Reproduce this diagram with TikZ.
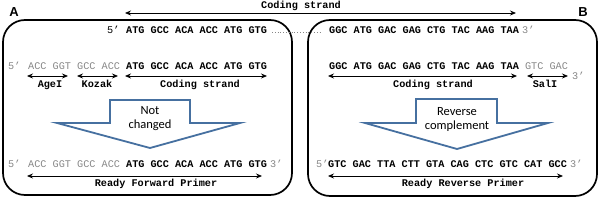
\documentclass[tikz,border=0pt]{standalone}
\usepackage{fontspec}
\setmonofont{Liberation Mono}
\newfontfamily\carlitofont{Carlito}
\newfontfamily\arialf{Liberation Sans}
\usetikzlibrary{arrows.meta}
\definecolor{seq}{RGB}{135,135,135}
\definecolor{bigarrow}{RGB}{70,112,160}
\tikzset{
  txt/.style={inner sep=0pt, anchor=base west, font=\ttfamily\fontsize{10.2}{12}\selectfont},
  lbl/.style={inner sep=0pt, anchor=base, font=\ttfamily\bfseries\fontsize{10.2}{12}\selectfont},
  dim/.style={line width=0.8pt, {Stealth[length=6pt,width=5pt]}-{Stealth[length=6pt,width=5pt]}},
  panel/.style={line width=1.7pt, rounded corners=22pt},
  fat/.style={draw=bigarrow, line width=1.8pt, fill=white, line join=miter},
  fattext/.style={inner sep=0pt, align=center, font=\carlitofont\fontsize{12.5}{14}\selectfont},
  letter/.style={inner sep=0pt, anchor=base, font=\arialf\bfseries\fontsize{13}{14}\selectfont}
}
\begin{document}
\begin{tikzpicture}[x=1pt,y=-1pt]
\useasboundingbox (0,0) rectangle (600,200);
% panels
\draw[panel] (3,20) rectangle (292,195);
\draw[panel] (308,20) rectangle (597,196);
\node[letter] (A) at (14,17) {A};
\node[letter] (B) at (583,17) {B};
% top coding strand
\node[lbl] (topl) at (301,8.5) {Coding strand};
\coordinate (t1) at (125,13);
\coordinate (t2) at (516,13);
\draw[dim] (t1) -- (t2);
\node[txt] (p5top) at (107,33.5) {5’};
\node[txt, font=\ttfamily\bfseries\fontsize{10.2}{12}\selectfont] (seqL) at (126,33.5) {ATG GCC ACA ACC ATG GTG};
\node[txt, font=\ttfamily\bfseries\fontsize{10.2}{12}\selectfont] (seqR) at (329,33.5) {GGC ATG GAC GAG CTG TAC AAG TAA};
\node[txt, text=seq] (p3top) at (522,33.5) {3’};
\coordinate (d1) at (272,32.5);
\coordinate (d2) at (322,32.5);
\draw[line width=0.8pt, dotted, seq] (d1) -- (d2);
% left panel row 2
\node[txt, text=seq] (l5) at (8,70) {5’};
\node[txt] (lrow2) at (28,70) {\textcolor{seq}{ACC GGT GCC ACC} \textbf{ATG GCC ACA ACC ATG GTG}};
\coordinate (a1) at (27,76); \coordinate (a2) at (68,76);
\coordinate (k1) at (77,76); \coordinate (k2) at (118,76);
\coordinate (c1) at (125,76); \coordinate (c2) at (267,76);
\draw[dim] (a1) -- (a2);
\draw[dim] (k1) -- (k2);
\draw[dim] (c1) -- (c2);
\node[lbl] (age) at (50,88) {AgeI};
\node[lbl] (koz) at (97,88) {Kozak};
\node[lbl] (cdl) at (200,88) {Coding strand};
% left big arrow
\draw[fat] (110,100) -- (190,100) -- (190,123) -- (240,123) -- (150,148) -- (57,123) -- (110,123) -- cycle;
\node[fattext] (nc) at (150,119) {Not\\changed};
% left row 3
\node[txt, text=seq] (l5b) at (8,168) {5’};
\node[txt] (lrow3) at (28,168) {\textcolor{seq}{ACC GGT GCC ACC} \textbf{ATG GCC ACA ACC ATG GTG}};
\node[txt, text=seq] (l3b) at (270,168) {3’};
\coordinate (f1) at (27,176); \coordinate (f2) at (262,176);
\draw[dim] (f1) -- (f2);
\node[lbl] (rfp) at (156,187) {Ready Forward Primer};
% right panel row 2
\node[txt] (rrow2) at (329,70) {\textbf{GGC ATG GAC GAG CTG TAC AAG TAA} \textcolor{seq}{GTC GAC}};
\coordinate (rc1) at (328,76); \coordinate (rc2) at (517,76);
\coordinate (s1) at (527,76); \coordinate (s2) at (568,76);
\draw[dim] (rc1) -- (rc2);
\draw[dim] (s1) -- (s2);
\node[txt, text=seq] (r3) at (572,80) {3’};
\node[lbl] (cdr) at (433,88) {Coding strand};
\node[lbl] (sal) at (545,88) {SalI};
% right big arrow
\draw[fat] (416,99) -- (497,99) -- (497,123) -- (548,123) -- (457,149) -- (365,123) -- (416,123) -- cycle;
\node[fattext] (rcomp) at (457,119) {Reverse\\complement};
% right row 3
\node[txt, text=seq] (r5b) at (316,168) {5’};
\node[txt, font=\ttfamily\bfseries\fontsize{10.2}{12}\selectfont] (rrow3) at (328,168) {GTC GAC TTA CTT GTA CAG CTC GTC CAT GCC};
\node[txt, text=seq] (r3b) at (570,168) {3’};
\coordinate (g1) at (328,176); \coordinate (g2) at (563,176);
\draw[dim] (g1) -- (g2);
\node[lbl] (rrp) at (463,187) {Ready Reverse Primer};
\end{tikzpicture}
\end{document}
